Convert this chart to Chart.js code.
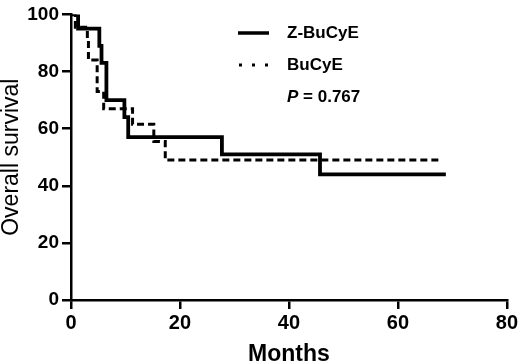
<!DOCTYPE html>
<html>
<head>
<meta charset="utf-8">
<script src="https://cdn.jsdelivr.net/npm/chart.js@4.4.0/dist/chart.umd.min.js"></script>
<style>
  html, body { margin: 0; padding: 0; background: #fff; }
  #wrap { width: 520px; height: 364px; }
</style>
</head>
<body>
<div id="wrap"><canvas id="km"></canvas></div>
<script>
// survival curves (months, % surviving)
const seriesNames = ["Z-BuCyE", "BuCyE"];
const zMonths = [0, 1.3, 5.2, 5.6, 6.5, 9.8, 10.5, 27.7, 45.7, 68.8];
const zSurvival = [100, 95, 89, 83, 70, 64, 57, 51, 44, 44];
const bMonths = [0, 0.8, 3.0, 3.2, 4.8, 6.0, 11.3, 15.2, 17.3, 67.9];
const bSurvival = [100, 95.5, 91, 84, 73, 67, 61.5, 55.5, 49, 49];
const xTicks = [0, 20, 40, 60, 80];
const yTicks = [0, 20, 40, 60, 80, 100];
const pText = "0.767";

const FONT = "'Liberation Sans', Arial, sans-serif";

const toPoints = (xs, ys) => xs.map((x, i) => ({ x, y: ys[i] }));

// legend + p value drawn by hand so it sits inside the plot like the original
const legendPlugin = {
  id: "kmLegend",
  afterDraw(chart) {
    const ctx = chart.ctx;
    const x0 = 238, x1 = 269, tx = 287;
    const rows = [33, 65];
    ctx.save();
    ctx.fillStyle = "#000";
    ctx.strokeStyle = "#000";
    ctx.font = "bold 17px " + FONT;
    ctx.textBaseline = "middle";
    // solid sample
    ctx.lineWidth = 3.5;
    ctx.beginPath();
    ctx.moveTo(x0, rows[0]);
    ctx.lineTo(x1, rows[0]);
    ctx.stroke();
    ctx.fillText(seriesNames[0], tx, rows[0]);
    // dotted sample
    [x0 + 1, x0 + 14, x0 + 27].forEach(px => ctx.fillRect(px, rows[1] - 1.5, 3, 3));
    ctx.fillText(seriesNames[1], tx, rows[1]);
    // p value
    ctx.font = "italic bold 17px " + FONT;
    ctx.fillText("P", tx, 97);
    const w = ctx.measureText("P").width;
    ctx.font = "bold 17px " + FONT;
    ctx.fillText(" = " + pText, tx + w, 97);
    ctx.restore();
  }
};

new Chart(document.getElementById("km"), {
  type: "line",
  data: {
    datasets: [
      {
        label: seriesNames[0],
        data: toPoints(zMonths, zSurvival),
        stepped: true,
        borderColor: "#000",
        borderWidth: 3.8,
        pointRadius: 0,
        fill: false
      },
      {
        label: seriesNames[1],
        data: toPoints(bMonths, bSurvival),
        stepped: true,
        borderColor: "#000",
        borderWidth: 3,
        borderDash: [7, 4],
        pointRadius: 0,
        fill: false
      }
    ]
  },
  options: {
    responsive: true,
    maintainAspectRatio: false,
    animation: false,
    layout: { padding: { top: 11, right: 12, left: 0, bottom: 0 } },
    plugins: {
      legend: { display: false },
      tooltip: { enabled: false }
    },
    scales: {
      x: {
        type: "linear",
        min: 0,
        max: 80,
        afterBuildTicks: (s) => { s.ticks = xTicks.map(v => ({ value: v })); },
        afterFit: (s) => { s.height = 64; },
        border: { color: "#000", width: 2.5 },
        grid: { drawOnChartArea: false, color: "#000", lineWidth: 2.5, tickLength: 9 },
        ticks: { color: "#000", font: { family: FONT, size: 20, weight: "bold" }, padding: 2 },
        title: {
          display: true,
          text: "Months",
          color: "#000",
          font: { family: FONT, size: 23, weight: "bold", lineHeight: 0.8 },
          padding: 0
        }
      },
      y: {
        min: 0,
        max: 100,
        afterBuildTicks: (s) => { s.ticks = yTicks.map(v => ({ value: v })); },
        afterFit: (s) => { s.width = 71; },
        border: { color: "#000", width: 2.5 },
        grid: { drawOnChartArea: false, color: "#000", lineWidth: 2.5, tickLength: 9 },
        ticks: { color: "#000", font: { family: FONT, size: 19, weight: "bold" }, padding: 3 },
        title: {
          display: true,
          text: "Overall survival",
          color: "#000",
          font: { family: FONT, size: 23, lineHeight: 1.0 },
          padding: 0
        }
      }
    }
  },
  plugins: [legendPlugin]
});
</script>
</body>
</html>
